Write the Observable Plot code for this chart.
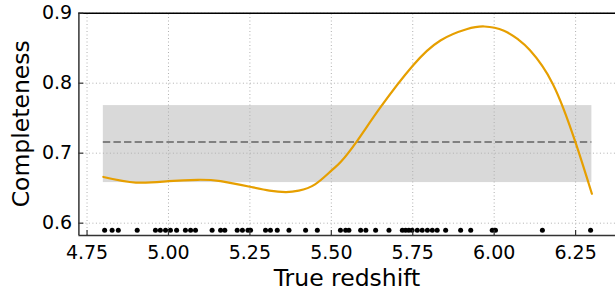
<!DOCTYPE html>
<html><head><meta charset="utf-8">
<script src="https://cdn.jsdelivr.net/npm/d3@7"></script>
<script src="https://cdn.jsdelivr.net/npm/@observablehq/plot@0.6"></script>
<style>body{margin:0;background:#fff} svg{font-family:"DejaVu Sans",sans-serif}</style>
</head><body><div id="chart"></div>
<script>
// Completeness curve vs true redshift
const curveZ = [4.80, 4.90, 5.00, 5.09, 5.16, 5.25, 5.31, 5.36, 5.40, 5.45, 5.50, 5.53, 5.58, 5.65, 5.75, 5.835, 5.915, 5.97, 6.03, 6.075, 6.11, 6.18, 6.25, 6.30];
const curveC = [0.666, 0.658, 0.660, 0.662, 0.660, 0.652, 0.6465, 0.6445, 0.6465, 0.6555, 0.675, 0.688, 0.718, 0.765, 0.825, 0.861, 0.877, 0.881, 0.875, 0.862, 0.847, 0.799, 0.715, 0.642];
// Rug of individual objects
const rugZ = [4.804, 4.827, 4.846, 4.904, 4.960, 4.975, 4.991, 5.006, 5.025, 5.052, 5.068, 5.083, 5.134, 5.160, 5.173, 5.211, 5.227, 5.244, 5.252, 5.298, 5.313, 5.334, 5.370, 5.421, 5.457, 5.528, 5.544, 5.554, 5.590, 5.606, 5.636, 5.677, 5.718, 5.728, 5.738, 5.748, 5.764, 5.779, 5.795, 5.810, 5.825, 5.851, 5.897, 5.928, 5.994, 6.004, 6.148, 6.296];
const rugLevel = 0.59;
// Mean and spread band
const bandRange = [4.8, 6.3];
const bandLow = 0.658;
const bandHigh = 0.768;
const bandMean = 0.716;
// Ticks and labels
const xTicks = [4.75, 5.00, 5.25, 5.50, 5.75, 6.00, 6.25];
const yTicks = [0.6, 0.7, 0.8, 0.9];
const xLabel = "True redshift";
const yLabel = "Completeness";

const xDom = [4.725, 6.3725];
const yDom = [0.5824, 0.9];
const curve = curveZ.map((z, i) => ({z, c: curveC[i]}));
const band = [{x1: bandRange[0], x2: bandRange[1], y1: bandLow, y2: bandHigh}];
const grid = {stroke: "#b0b0b0", strokeWidth: 1, strokeDasharray: "1,2.5"};
const spine = "#333333";
const tickLen = 5 / 325.7;
const tickLenY = 5 / 700;

const plot = Plot.plot({
  width: 615, height: 290,
  marginLeft: 78.4, marginRight: 0, marginTop: 12.7, marginBottom: 55,
  x: {domain: xDom},
  y: {domain: yDom},
  style: {fontFamily: "DejaVu Sans, sans-serif", fontSize: "19px", background: "white", color: "black", overflow: "visible"},
  marks: [
    Plot.rect(band, {x1: "x1", x2: "x2", y1: "y1", y2: "y2", fill: "#d9d9d9"}),
    Plot.ruleX(xTicks, {y1: yDom[0], y2: yDom[1], ...grid}),
    Plot.ruleY(yTicks, {x1: xDom[0], x2: xDom[1], ...grid}),
    Plot.ruleY([bandMean], {x1: bandRange[0], x2: bandRange[1], stroke: "#808080", strokeWidth: 2, strokeDasharray: "7.4,3.2"}),
    Plot.line(curve, {x: "z", y: "c", stroke: "#E69F00", strokeWidth: 2.2, curve: "natural"}),
    Plot.dot(rugZ, {x: d => d, y: () => rugLevel, r: 2.5, fill: "black", stroke: "none"}),
    // spines
    Plot.ruleY([yDom[1]], {stroke: "black", strokeWidth: 1.6}),
    Plot.ruleX([xDom[0]], {stroke: spine, strokeWidth: 1.5}),
    Plot.ruleY([yDom[0]], {stroke: spine, strokeWidth: 1.5}),
    // inward tick marks
    Plot.ruleX(xTicks, {y1: yDom[0], y2: yDom[0] + tickLenY, stroke: spine, strokeWidth: 1.2}),
    Plot.ruleY(yTicks, {x1: xDom[0], x2: xDom[0] + tickLen, stroke: spine, strokeWidth: 1.2}),
    Plot.axisX(xTicks, {tickSize: 0, tickPadding: 10, fontSize: 19, tickFormat: d => d.toFixed(2), label: null}),
    Plot.axisY(yTicks, {anchor: "left", tickSize: 0, tickPadding: 6.7, fontSize: 19, tickFormat: d => d.toFixed(1), label: null})
  ]
});
const svg = d3.select(plot);
svg.selectAll("g[aria-label$='tick label']").attr("font-size", 19).selectAll("text").attr("font-size", 19);
svg.append("text")
  .attr("x", 347).attr("y", 286)
  .attr("text-anchor", "middle")
  .attr("font-size", 23.5).attr("fill", "black")
  .text(xLabel);
svg.append("text")
  .attr("transform", "translate(29,123.8) rotate(-90)")
  .attr("text-anchor", "middle")
  .attr("font-size", 23.5).attr("fill", "black")
  .text(yLabel);
document.getElementById("chart").appendChild(plot);
</script>
</body></html>
